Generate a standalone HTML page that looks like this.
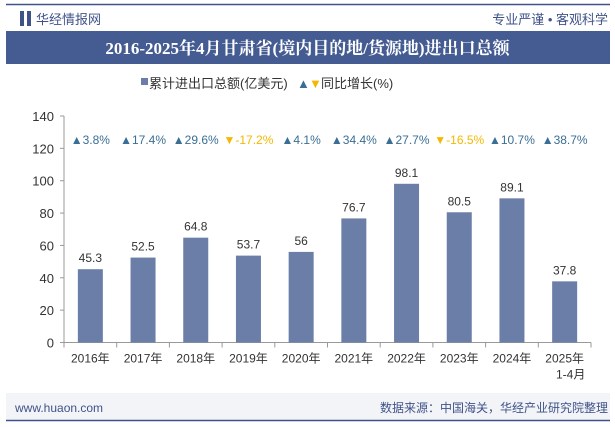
<!DOCTYPE html>
<html><head><meta charset="utf-8"><style>
body{margin:0;width:615px;height:427px;background:#fff;font-family:"Liberation Sans","Noto Sans CJK SC",sans-serif;position:relative;overflow:hidden}
</style></head><body>
<svg width="615" height="427" xmlns="http://www.w3.org/2000/svg" style="position:absolute;left:0;top:0;font-family:'Liberation Sans','Noto Sans CJK SC',sans-serif">
<line x1="6" y1="4.5" x2="610" y2="4.5" stroke="#3f5389" stroke-width="1.5"/>
<rect x="20" y="11" width="4" height="15" fill="#3f5389"/><rect x="27" y="11" width="4" height="15" fill="#3f5389"/>
<text x="36" y="24" font-size="13" fill="#3f5389">华经情报网</text>
<text x="608" y="24" font-size="13" fill="#3f5389" text-anchor="end">专业严谨 • 客观科学</text>
<rect x="6" y="31" width="604" height="33" fill="#455c92"/>
<text x="307.5" y="54" font-size="17" font-weight="bold" fill="#fff" text-anchor="middle" font-family="'Liberation Serif','Noto Serif CJK SC',serif">2016-2025年4月甘肃省(境内目的地/货源地)进出口总额</text>
<g font-size="13" fill="#333">
<rect x="141" y="78" width="7" height="7" fill="#6b7ea8"/><text x="149" y="88">累计进出口总额(亿美元)</text>
<text x="297" y="88" fill="#3a6e95" font-size="13">▲</text><text x="309" y="88" fill="#f5b800" font-size="13">▼</text><text x="321" y="88">同比增长(%)</text>
</g>
<g id="axes"></g><g id="bars"></g>
<rect x="6" y="393" width="604" height="27" fill="#f3f4f8"/>
<line x1="6" y1="420.5" x2="610" y2="420.5" stroke="#3f5389" stroke-width="1.5"/>
<text x="15" y="412" font-size="12" fill="#3f5389">www.huaon.com</text>
<text x="608" y="412" font-size="12" fill="#3f5389" text-anchor="end">数据来源：中国海关，华经产业研究院整理</text>
</svg>
<script>
const categories=["2016年","2017年","2018年","2019年","2020年","2021年","2022年","2023年","2024年","2025年"];
const values=[45.3,52.5,64.8,53.7,56,76.7,98.1,80.5,89.1,37.8];
const growth=[3.8,17.4,29.6,-17.2,4.1,34.4,27.7,-16.5,10.7,38.7];
const yTicks=[0,20,40,60,80,100,120,140];
const NS="http://www.w3.org/2000/svg";
const x0=64,x1=591,yb=342.5,yt=116,ymax=140;
const step=(x1-x0)/categories.length;
const y=v=>yb-(yb-yt)*v/ymax;
const xc=i=>x0+step*(i+0.5);
function mk(t,a,p,txt){const e=document.createElementNS(NS,t);for(const k in a)e.setAttribute(k,a[k]);if(txt!=null)e.textContent=txt;p.appendChild(e);return e;}
const ax=document.getElementById('axes'),bg=document.getElementById('bars');
const yl=mk('line',{x1:x0,y1:yt,x2:x0,y2:yb,stroke:'#999'},ax);


const xl=mk('line',{x1:x0,y1:yb,x2:x1,y2:yb,stroke:'#999'},ax);


yTicks.forEach(t=>{
 mk('line',{x1:x0-4,y1:y(t),x2:x0,y2:y(t),stroke:'#999'},ax);
 const l=mk('text',{x:x0-10,y:y(t)+5,'font-size':13,fill:'#333','text-anchor':'end'},ax,t);
 
 
});
for(let i=0;i<=categories.length;i++)mk('line',{x1:x0+step*i,y1:yb,x2:x0+step*i,y2:yb+5,stroke:'#999'},ax);
categories.forEach((c,i)=>{
 const cx=xc(i);
 const r=mk('rect',{x:cx-12.5,y:y(values[i]),width:25,height:yb-y(values[i]),fill:'#6b7ea8'},bg);
 
 
 const v=mk('text',{x:cx,y:y(values[i])-7,'font-size':12,fill:'#333','text-anchor':'middle'},bg,values[i]);
 
 
 const xlbl=mk('text',{x:cx,y:yb+20,'font-size':12,fill:'#333','text-anchor':'middle'},bg,c);
 
 
 if(i===categories.length-1){const s=mk('text',{x:cx+6,y:yb+36,'font-size':12,fill:'#333','text-anchor':'middle'},bg,'1-4月');
 
 }
 const g=growth[i];
 const gt=mk('text',{x:cx,y:144,'font-size':12,fill:g<0?'#f5b800':'#3a6e95','text-anchor':'middle'},bg,(g<0?'▼':'▲')+g+'%');
 
 
});
</script>
</body></html>
